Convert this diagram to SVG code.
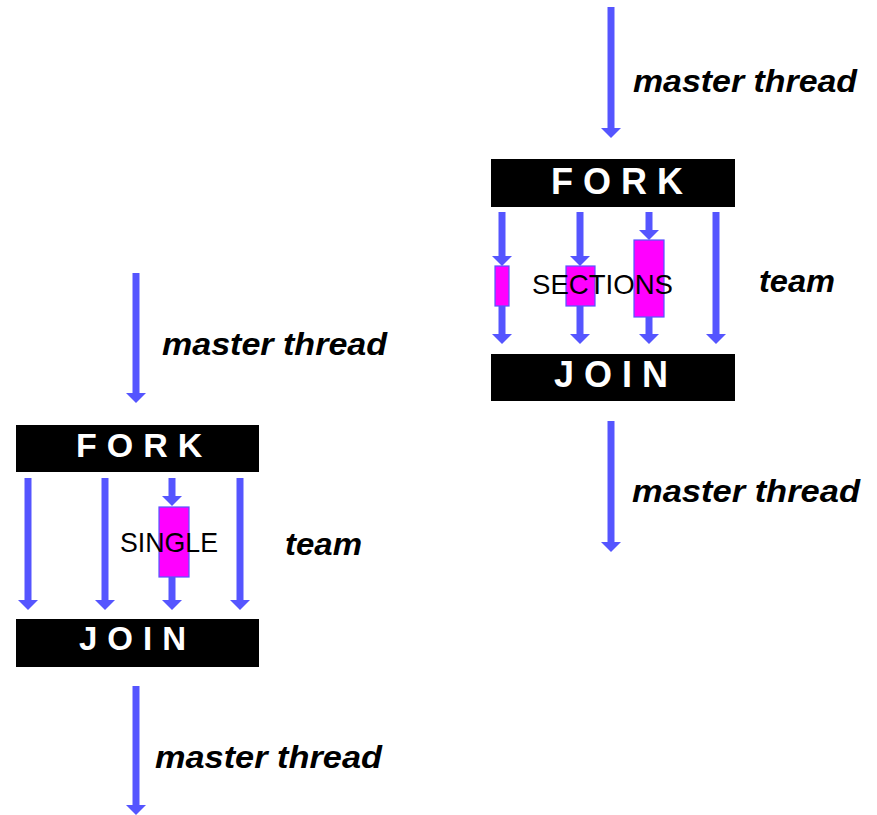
<svg xmlns="http://www.w3.org/2000/svg" xmlns:xlink="http://www.w3.org/1999/xlink" width="877" height="815" viewBox="0 0 877 815">
  <style>
    .bar { fill: #000000; }
    .barText { fill: #ffffff; font-family: "Liberation Sans", Arial, sans-serif; font-weight: bold; letter-spacing: 10px; }
    .flow { stroke: #5555ff; stroke-width: 7; fill: none; }
    .head { fill: #5555ff; }
    .work { fill: #ff00ff; stroke: #5555ff; stroke-width: 1.2; }
    .label { fill: #000000; font-family: "Liberation Sans", Arial, sans-serif; font-weight: bold; font-style: italic; font-size: 32px; }
    .construct { fill: #000000; font-family: "Liberation Sans", Arial, sans-serif; font-size: 28px; }
  </style>
  <defs>
    <path id="ah" class="head" d="M-10,-10 L10,-10 L0,0 Z"/>
  </defs>
  <rect width="877" height="815" fill="#ffffff"/>

  <!-- Connectors: thread flow arrows -->
  <g id="connectors">
    <!-- SECTIONS construct, master thread in -->
    <line class="flow" x1="611" y1="7" x2="611" y2="129"/>
    <use xlink:href="#ah" x="611" y="138"/>
    <!-- team threads -->
    <line class="flow" x1="502" y1="212" x2="502" y2="258"/>
    <use xlink:href="#ah" x="502" y="266"/>
    <line class="flow" x1="502" y1="306" x2="502" y2="336"/>
    <use xlink:href="#ah" x="502" y="344"/>
    <line class="flow" x1="580" y1="212" x2="580" y2="258"/>
    <use xlink:href="#ah" x="580" y="266"/>
    <line class="flow" x1="580" y1="306" x2="580" y2="336"/>
    <use xlink:href="#ah" x="580" y="344"/>
    <line class="flow" x1="649" y1="212" x2="649" y2="232"/>
    <use xlink:href="#ah" x="649" y="240"/>
    <line class="flow" x1="649" y1="317" x2="649" y2="336"/>
    <use xlink:href="#ah" x="649" y="344"/>
    <line class="flow" x1="716" y1="212" x2="716" y2="336"/>
    <use xlink:href="#ah" x="716" y="344"/>
    <!-- master thread out -->
    <line class="flow" x1="611" y1="421" x2="611" y2="543"/>
    <use xlink:href="#ah" x="611" y="552"/>

    <!-- SINGLE construct, master thread in -->
    <line class="flow" x1="136" y1="273" x2="136" y2="394"/>
    <use xlink:href="#ah" x="136" y="403"/>
    <!-- team threads -->
    <line class="flow" x1="28" y1="478" x2="28" y2="602"/>
    <use xlink:href="#ah" x="28" y="610"/>
    <line class="flow" x1="105" y1="478" x2="105" y2="602"/>
    <use xlink:href="#ah" x="105" y="610"/>
    <line class="flow" x1="172" y1="478" x2="172" y2="498"/>
    <use xlink:href="#ah" x="172" y="506"/>
    <line class="flow" x1="172" y1="577" x2="172" y2="602"/>
    <use xlink:href="#ah" x="172" y="610"/>
    <line class="flow" x1="240" y1="478" x2="240" y2="602"/>
    <use xlink:href="#ah" x="240" y="610"/>
    <!-- master thread out -->
    <line class="flow" x1="136" y1="686" x2="136" y2="806"/>
    <use xlink:href="#ah" x="136" y="815"/>
  </g>

  <!-- SECTIONS construct -->
  <g id="fork-sections">
    <rect class="bar" x="491" y="159" width="244" height="48"/>
    <text class="barText" x="551" y="194" font-size="36">FORK</text>
  </g>
  <g id="join-sections">
    <rect class="bar" x="491" y="354" width="244" height="47"/>
    <text class="barText" x="554" y="387" font-size="36">JOIN</text>
  </g>
  <g id="sections-work">
    <rect class="work" x="495" y="266" width="14" height="40"/>
    <rect class="work" x="566" y="266" width="29" height="40"/>
    <rect class="work" x="634" y="240" width="30" height="77"/>
    <text class="construct" x="532" y="294" textLength="141" lengthAdjust="spacingAndGlyphs">SECTIONS</text>
  </g>
  <g id="labels-sections">
    <text class="label" x="633" y="92" textLength="224" lengthAdjust="spacingAndGlyphs">master thread</text>
    <text class="label" x="759" y="292" textLength="76" lengthAdjust="spacingAndGlyphs">team</text>
    <text class="label" x="632" y="502" textLength="228" lengthAdjust="spacingAndGlyphs">master thread</text>
  </g>

  <!-- SINGLE construct -->
  <g id="fork-single">
    <rect class="bar" x="16" y="425" width="243" height="47"/>
    <text class="barText" x="76" y="457" font-size="34">FORK</text>
  </g>
  <g id="join-single">
    <rect class="bar" x="16" y="619" width="243" height="48"/>
    <text class="barText" x="79" y="650" font-size="33">JOIN</text>
  </g>
  <g id="single-work">
    <rect class="work" x="159" y="507" width="30" height="70"/>
    <text class="construct" x="120" y="552" font-size="27" textLength="98" lengthAdjust="spacingAndGlyphs">SINGLE</text>
  </g>
  <g id="labels-single">
    <text class="label" x="162" y="355" textLength="225" lengthAdjust="spacingAndGlyphs">master thread</text>
    <text class="label" x="285" y="555" textLength="77" lengthAdjust="spacingAndGlyphs">team</text>
    <text class="label" x="155" y="768" textLength="227" lengthAdjust="spacingAndGlyphs">master thread</text>
  </g>
</svg>
